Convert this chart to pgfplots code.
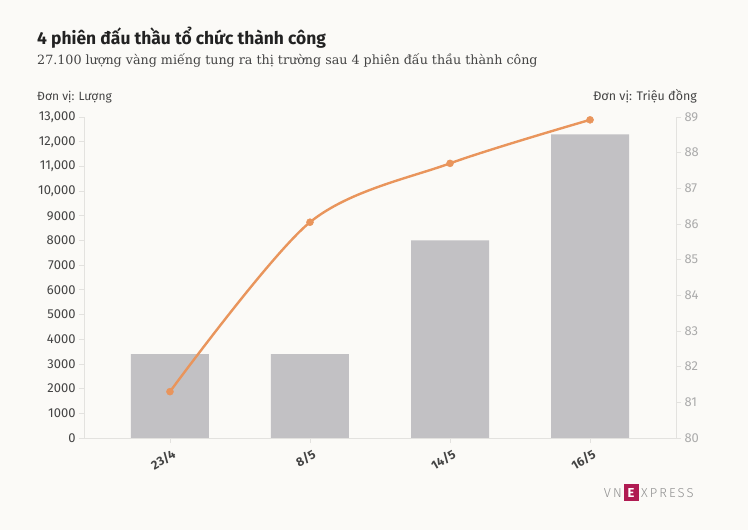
\documentclass[border=0pt]{standalone}
\usepackage{pgfplots}
\pgfplotsset{compat=1.18}
\usepackage{fontspec}
\setmainfont{Fira Sans}
\newfontfamily\seriffont{DejaVu Serif}
\newfontfamily\logofont[LetterSpace=16]{Fira Sans Light}
\definecolor{bg}{HTML}{FBFAF7}
\definecolor{titlec}{HTML}{222222}
\definecolor{subc}{HTML}{444444}
\definecolor{axisc}{HTML}{E3E2DF}
\definecolor{barc}{HTML}{C2C1C4}
\definecolor{linec}{HTML}{E9955C}
\definecolor{rightc}{HTML}{ABABAB}
\definecolor{logored}{HTML}{B01B52}
\definecolor{logogray}{HTML}{8E8E8E}
\begin{document}
\begin{tikzpicture}[x=1bp,y=1bp]
\fill[bg] (0,0) rectangle (748,530);
\useasboundingbox (0,0) rectangle (748,530);
\node[anchor=base west, inner sep=0, text=titlec, font=\fontsize{17.5}{20}\selectfont\bfseries] at (37,485) {4 phiên đấu thầu tổ chức thành công};
\node[anchor=base west, inner sep=0, text=subc, font=\seriffont\fontsize{12.75}{16}\selectfont] at (37,465) {27.100 lượng vàng miếng tung ra thị trường sau 4 phiên đấu thầu thành công};
\node[anchor=base west, inner sep=0, text=subc, font=\fontsize{12}{14}\selectfont] at (37,429) {Đơn vị: Lượng};
\node[anchor=base east, inner sep=0, text=subc, font=\fontsize{12.5}{14}\selectfont] at (697,429) {Đơn vị: Triệu đồng};
\begin{axis}[
  at={(84bp,92bp)}, anchor=south west,
  width=592bp, height=321bp, scale only axis,
  xmin=-0.614, xmax=3.614, ymin=0, ymax=13000,
  axis y line*=left, axis x line*=bottom,
  axis line style={draw=axisc, line width=0.8bp},
  every tick/.style={draw=axisc, line width=0.8bp},
  tick align=outside, major tick length=5bp,
  xtick={0,1,2,3}, xticklabels={23/4,8/5,14/5,16/5},
  xticklabel style={rotate=30, anchor=north east, font=\fontsize{12.5}{14}\selectfont\bfseries, text=subc, xshift=2bp, yshift=-2bp},
  ytick={0,1000,...,13000},
  scaled y ticks=false,
  yticklabel style={font=\fontsize{13}{15}\selectfont, text=subc},
  /pgf/number format/assume math mode=true,
  /pgf/number format/1000 sep={,},
  /pgf/number format/min exponent for 1000 sep=4,
  ybar, bar width=78bp,
  clip=false,
]
\addplot[fill=barc, draw=none] coordinates {(0,3400) (1,3400) (2,8000) (3,12300)};
\end{axis}
\begin{axis}[
  at={(84bp,92bp)}, anchor=south west,
  width=592bp, height=321bp, scale only axis,
  xmin=-0.614, xmax=3.614, ymin=80, ymax=89,
  axis y line*=right, axis x line=none,
  axis line style={draw=axisc, line width=0.8bp},
  every tick/.style={draw=axisc, line width=0.8bp},
  tick align=outside, major tick length=5bp,
  ytick={80,81,...,89},
  yticklabel style={font=\fontsize{13}{15}\selectfont, text=rightc},
  /pgf/number format/assume math mode=true,
  clip=false,
]
\addplot[linec, line width=2.4bp, smooth, tension=0.5, mark=*, mark size=3.5bp, mark options={solid, fill=linec, draw=linec, line width=0.5bp}] coordinates {(0,81.3) (1,86.05) (2,87.7) (3,88.92)};
\end{axis}
\node[anchor=east, inner sep=0, text=logogray, font=\logofont\fontsize{13}{13}\selectfont] at (622,37) {VN};
\node[anchor=center, inner sep=0, minimum width=15bp, minimum height=17bp, fill=logored, text=white, font=\fontsize{13}{14}\selectfont\bfseries] at (631,37) {E};
\node[anchor=west, inner sep=0, text=logogray, font=\logofont\fontsize{13}{13}\selectfont] at (641,37) {XPRESS};
\end{tikzpicture}
\end{document}
